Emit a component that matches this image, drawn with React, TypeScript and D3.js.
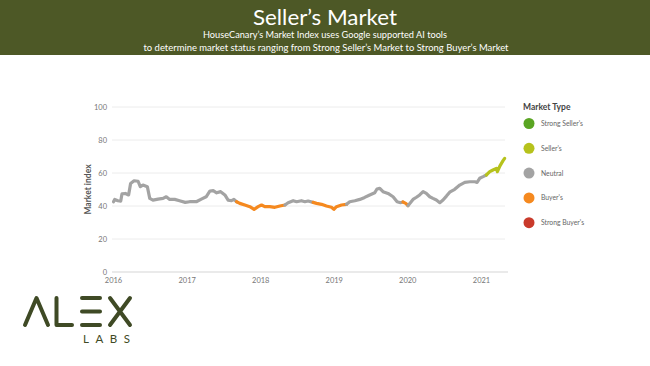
import * as d3 from "d3";

// weekly-ish readings of the HouseCanary market index
const dates = [
  "2016-01-01", "2016-01-07", "2016-01-23", "2016-02-06", "2016-02-12", "2016-02-29",
  "2016-03-16", "2016-03-26", "2016-04-12", "2016-05-02", "2016-05-13", "2016-05-26",
  "2016-06-17", "2016-06-29", "2016-07-15", "2016-08-09", "2016-09-03", "2016-09-19",
  "2016-10-06", "2016-10-31", "2016-11-24", "2016-12-22", "2017-01-13", "2017-02-15",
  "2017-03-12", "2017-04-05", "2017-04-24", "2017-05-10", "2017-05-27", "2017-06-16",
  "2017-07-07", "2017-07-23", "2017-08-09", "2017-08-21", "2017-09-03", "2017-09-19",
  "2017-10-14", "2017-11-08", "2017-11-29", "2017-12-19", "2018-01-05", "2018-01-21",
  "2018-02-15", "2018-03-12", "2018-04-06", "2018-05-01", "2018-05-17", "2018-06-11",
  "2018-06-28", "2018-07-22", "2018-08-08", "2018-08-24", "2018-09-18", "2018-10-05",
  "2018-10-30", "2018-11-23", "2018-12-18", "2018-12-30", "2019-01-12", "2019-02-06",
  "2019-03-03", "2019-03-19", "2019-04-13", "2019-05-08", "2019-06-01", "2019-06-26",
  "2019-07-21", "2019-08-01", "2019-08-15", "2019-08-31", "2019-09-25", "2019-10-20",
  "2019-11-09", "2019-11-26", "2019-12-08", "2019-12-22", "2020-01-02", "2020-01-14",
  "2020-01-27", "2020-02-13", "2020-02-29", "2020-03-17", "2020-04-02", "2020-04-19",
  "2020-05-05", "2020-05-22", "2020-06-08", "2020-06-24", "2020-07-11", "2020-07-27",
  "2020-08-21", "2020-09-15", "2020-10-10", "2020-11-04", "2020-11-29", "2020-12-10",
  "2020-12-23", "2021-01-09", "2021-01-25", "2021-02-11", "2021-02-27", "2021-03-16",
  "2021-03-21", "2021-04-02", "2021-04-18", "2021-04-26",
];

const indexValues = [
  42.6, 44, 43.2, 43, 47.3, 47.6,
  46.7, 53.7, 55.3, 55, 51.7, 52.7,
  51.7, 44.6, 43.6, 44.2, 44.6, 45.6,
  44, 44, 43.2, 42.2, 42.6, 42.6,
  44.2, 45.6, 49.1, 49.3, 48, 48.7,
  46.7, 43.6, 43.2, 44, 42.6, 41.6,
  40.6, 39.6, 38, 39.6, 40.6, 39.6,
  39.6, 39.2, 40, 40.6, 42, 43.2,
  42.6, 43.2, 42.6, 43, 42.2, 41.6,
  41, 40, 39.2, 38, 39.6, 40.6,
  41, 42.6, 43.2, 44, 45.2, 46.7,
  48, 50.3, 50.7, 48.7, 47.6, 45.6,
  42.6, 42, 42.4, 41.6, 40.2, 42,
  44, 45.3, 46.7, 48.7, 47.6, 45.6,
  44.6, 43.6, 42, 43.6, 46, 48.4,
  50.1, 52.7, 54.3, 54.7, 54.7, 54.3,
  56.8, 57.8, 58.8, 60.8, 61.8, 62.8,
  60.8, 64.2, 67.5, 68.9,
];

const yTicks = [0, 20, 40, 60, 80, 100];
const xTickYears = [2016, 2017, 2018, 2019, 2020, 2021];

const legendLabels = ["Strong Seller's", "Seller's", "Neutral", "Buyer's", "Strong Buyer's"];
const legendColors = ["#5aa523", "#b6c21c", "#a3a3a3", "#f5891f", "#c93a2b"];

const font = "Lato, 'Open Sans', sans-serif";
const olive = "#4d5826";
const logoColor = "#3f4a25";

function marketType(v: number) {
  if (v >= 75) return 0;
  if (v >= 60) return 1;
  if (v >= 41.8) return 2;
  if (v >= 25) return 3;
  return 4;
}

export default function App() {
  const width = 650;
  const height = 366;

  const x = d3
    .scaleTime()
    .domain([new Date(2016, 0, 1), new Date(2021, 0, 1)])
    .range([113.5, 481.5]);
  const y = d3.scaleLinear().domain([0, 100]).range([272, 107]);

  const points = dates.map((d, i) => ({
    date: d3.timeParse("%Y-%m-%d")(d) as Date,
    value: indexValues[i],
    type: marketType(indexValues[i]),
  }));

  // split into runs of one market type, sharing the joining point
  const runs: { type: number; pts: typeof points }[] = [];
  points.forEach((p, i) => {
    const last = runs[runs.length - 1];
    if (!last || last.type !== p.type) {
      const start = i > 0 ? [points[i - 1], p] : [p];
      runs.push({ type: p.type, pts: start });
    } else {
      last.pts.push(p);
    }
  });

  const line = d3
    .line<(typeof points)[number]>()
    .x((d) => x(d.date))
    .y((d) => y(d.value));

  const gridLeft = 112;
  const gridRight = 505;

  return (
    <svg
      width={width}
      height={height}
      style={{ position: "absolute", left: 0, top: 0, background: "#fff" }}
    >
      <rect x={0} y={0} width={width} height={height} fill="#fff" />

      {/* header band */}
      <rect x={0} y={0} width={width} height={55} fill={olive} />
      <text
        x={325}
        y={25}
        textAnchor="middle"
        fill="#fff"
        fontFamily={font}
        fontSize={21}
        textLength={144}
        lengthAdjust="spacingAndGlyphs"
      >
        Seller’s Market
      </text>
      <text
        x={325}
        y={38}
        textAnchor="middle"
        fill="#fff"
        fontFamily={font}
        fontSize={9.5}
        textLength={244}
        lengthAdjust="spacingAndGlyphs"
      >
        HouseCanary’s Market Index uses Google supported AI tools
      </text>
      <text
        x={326}
        y={50.5}
        textAnchor="middle"
        fill="#fff"
        fontFamily={font}
        fontSize={9.5}
        textLength={365}
        lengthAdjust="spacingAndGlyphs"
      >
        to determine market status ranging from Strong Seller’s Market to Strong Buyer’s Market
      </text>

      {/* grid */}
      {yTicks.map((t) => (
        <g key={t}>
          <line
            x1={gridLeft}
            x2={t === 0 ? 508 : gridRight}
            y1={y(t)}
            y2={y(t)}
            stroke={t === 0 ? "#d5d5d5" : "#ececec"}
            strokeWidth={1}
          />
          <text
            x={107}
            y={y(t) + 3}
            textAnchor="end"
            fontFamily={font}
            fontSize={7.5}
            fill="#777"
          >
            {t}
          </text>
        </g>
      ))}

      {xTickYears.map((yr) => (
        <text
          key={yr}
          x={x(new Date(yr, 0, 1))}
          y={283}
          textAnchor="middle"
          fontFamily={font}
          fontSize={7.5}
          fill="#777"
        >
          {yr}
        </text>
      ))}

      <text
        transform={`translate(91, ${y(50)}) rotate(-90)`}
        textAnchor="middle"
        fontFamily={font}
        fontSize={8.5}
        fontWeight={700}
        fill="#555"
      >
        Market index
      </text>

      {/* index line */}
      {runs.map((r, i) => (
        <path
          key={i}
          d={line(r.pts) || ""}
          fill="none"
          stroke={legendColors[r.type]}
          strokeWidth={3.2}
          strokeLinejoin="round"
          strokeLinecap="round"
        />
      ))}

      {/* legend */}
      <text x={523} y={110} fontFamily={font} fontSize={8.5} fontWeight={700} fill="#444">
        Market Type
      </text>
      {legendLabels.map((lab, i) => (
        <g key={lab} transform={`translate(529, ${123.5 + i * 24.8})`}>
          <circle r={5.5} fill={legendColors[i]} />
          <text x={12} y={2.5} fontFamily={font} fontSize={6.8} fill="#666">
            {lab}
          </text>
        </g>
      ))}

      {/* ALEX LABS logo */}
      <g
        stroke={logoColor}
        strokeWidth={4}
        strokeLinecap="round"
        strokeLinejoin="round"
        fill="none"
      >
        <path d="M25,325 L36.5,298 L48,325" />
        <path d="M56.5,298 L56.5,325 L72,325" />
        <path d="M82,298 L100,298 M82,311.5 L100,311.5 M82,325 L100,325" />
        <path d="M110,298 L130,325 M130,298 L110,325" />
      </g>
      <text
        x={83}
        y={343}
        fontFamily={font}
        fontSize={11.5}
        fill={logoColor}
        textLength={47}
        lengthAdjust="spacing"
      >
        LABS
      </text>
    </svg>
  );
}
